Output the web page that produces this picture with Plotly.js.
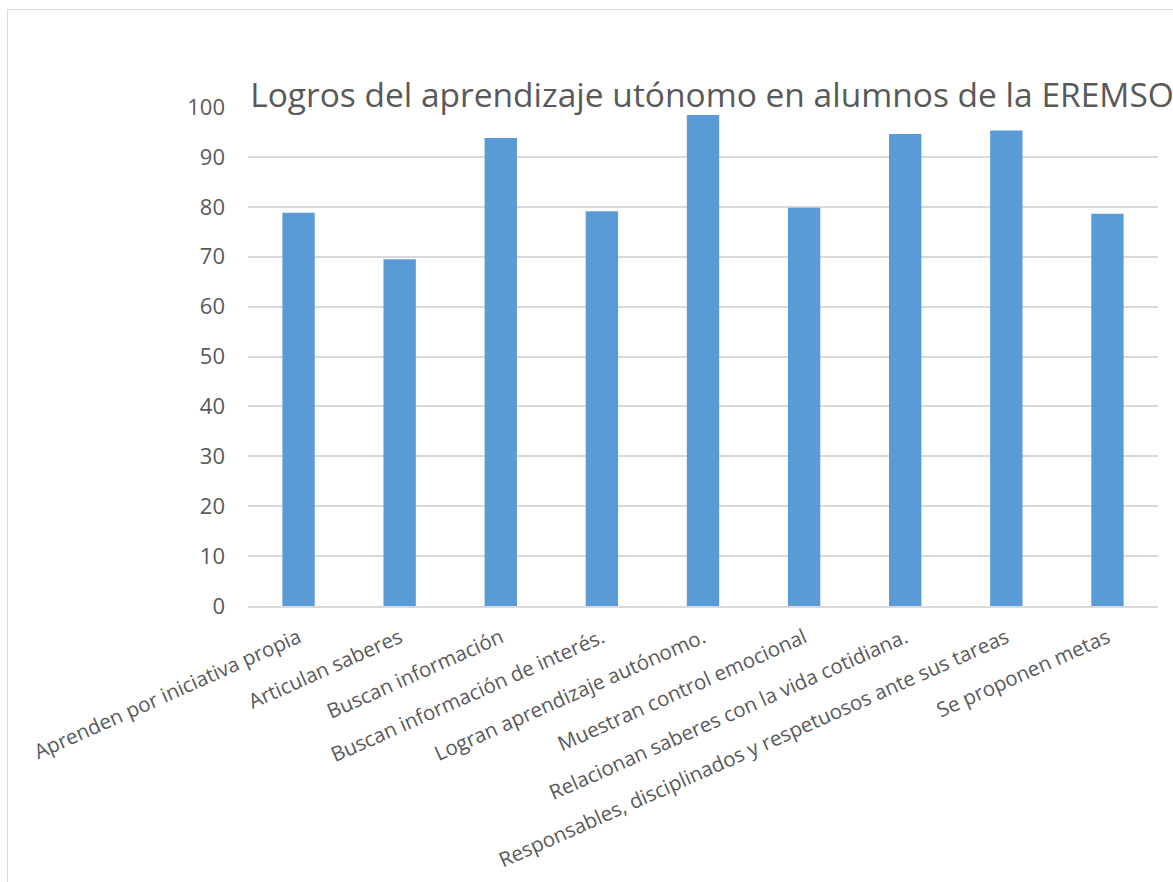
<!DOCTYPE html>
<html>
<head>
<meta charset="utf-8">
<script src="https://cdn.plot.ly/plotly-3.0.1.min.js"></script>
<style>
  html, body { margin: 0; padding: 0; background: #ffffff; overflow: hidden; }
  #frame { position: absolute; left: 7px; top: 9px; width: 1200px; height: 900px; border: 1px solid #d9d9d9; }
  #chart { position: absolute; left: 0; top: 0; width: 1173px; height: 882px; }
</style>
</head>
<body>
<div id="frame"></div>
<div id="chart"></div>
<script>
const categories = [
  "Aprenden por iniciativa propia",
  "Articulan saberes",
  "Buscan información",
  "Buscan información de interés.",
  "Logran aprendizaje autónomo.",
  "Muestran control emocional",
  "Relacionan saberes con la vida cotidiana.",
  "Responsables, disciplinados y respetuosos ante sus tareas",
  "Se proponen metas"
];
const values = [78.8, 69.5, 93.8, 79.1, 98.4, 79.8, 94.6, 95.3, 78.6];
const chartTitle = "Logros del aprendizaje utónomo en alumnos de la EREMSO";

const textColor = "#595959";
const fontFamily = "'Open Sans', 'Noto Sans', sans-serif";

Plotly.newPlot("chart", [{
  type: "bar",
  x: categories,
  y: values,
  marker: { color: "#5b9bd5" },
  hoverinfo: "x+y"
}], {
  width: 1173,
  height: 882,
  paper_bgcolor: "rgba(0,0,0,0)",
  plot_bgcolor: "rgba(0,0,0,0)",
  margin: { l: 248, r: 15, t: 107, b: 276 },
  bargap: 0.68,
  showlegend: false,
  title: {
    text: chartTitle,
    font: { family: fontFamily, size: 33.5, color: textColor },
    xref: "container", x: 0.607, xanchor: "center",
    yref: "container", y: 0.892, yanchor: "middle"
  },
  xaxis: {
    type: "category",
    tickangle: -24,
    tickfont: { family: fontFamily, size: 20.5, color: textColor },
    showline: true, linecolor: "#d9d9d9", linewidth: 2,
    showgrid: false, ticks: "",
    ticklabelstandoff: 10
  },
  yaxis: {
    range: [0, 100],
    dtick: 10,
    tickfont: { family: fontFamily, size: 22, color: textColor },
    showgrid: true, gridcolor: "#d9d9d9", gridwidth: 2,
    zeroline: false, showline: false, ticks: "",
    ticklabelstandoff: 22
  }
}, { displayModeBar: false, staticPlot: true });
</script>
</body>
</html>
